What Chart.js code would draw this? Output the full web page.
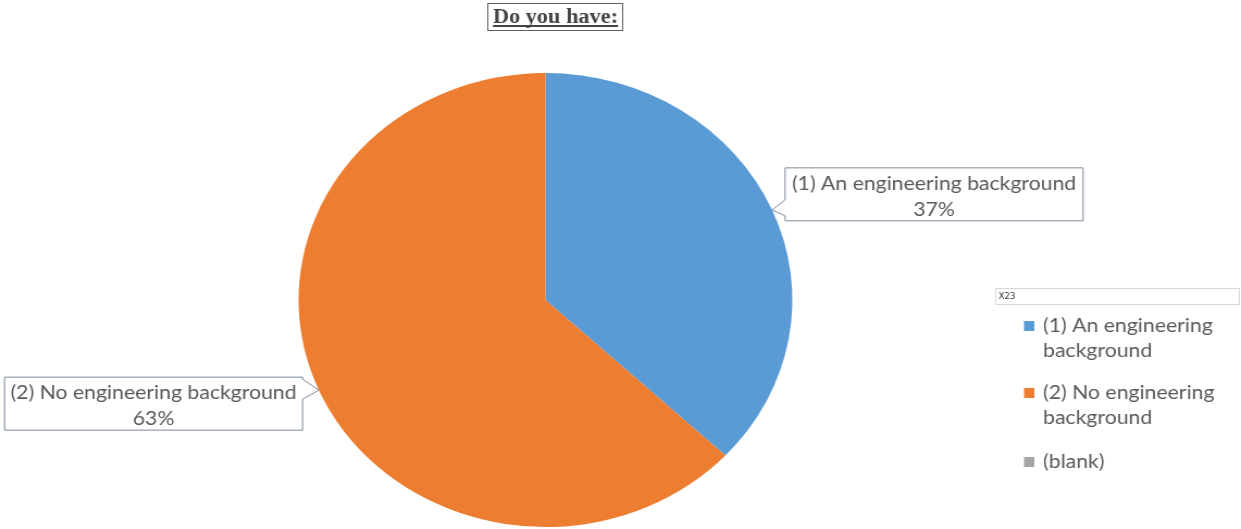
<!DOCTYPE html>
<html>
<head>
<meta charset="utf-8">
<title>Do you have:</title>
<script src="https://cdn.jsdelivr.net/npm/chart.js@4.4.1/dist/chart.umd.min.js"></script>
<style>
  html, body { margin: 0; padding: 0; background: #fff; }
  #wrap { position: relative; width: 1241px; height: 529px; overflow: hidden; }
  #chart { display: block; }
</style>
</head>
<body>
<div id="wrap">
  <!-- drawing buffer is narrower than the box, so the pie comes out slightly wide -->
  <canvas id="chart" width="1141" height="529" style="width:1241px;height:529px"></canvas>
</div>
<script>
const TITLE = 'Do you have:';
const FIELD_NAME = 'x23';
const categories = ['(1) An engineering background', '(2) No engineering background', '(blank)'];
const legendLines = [['(1) An engineering', 'background'], ['(2) No engineering', 'background'], ['(blank)']];
const shares = [37, 63, 0];
const sliceColors = ['#5B9BD5', '#ED7D31', '#A5A5A5'];

const TEXT_COLOR = '#595959';
const LABEL_FONT = '19.5px Lato, "Open Sans", sans-serif';

// callout box placement relative to the tip on the slice edge (buffer px)
const CALLOUT = {
  w: 274, h: 53,
  right: { dx: 12, dy: -42, notchTop: -10, notchBottom: 6 },
  left: { dx: -15, dy: -13, notchTop: -11, notchBottom: 9 },
};

const titlePlugin = {
  id: 'boxedTitle',
  afterDraw(chart) {
    const ctx = chart.ctx;
    const cx = 510.7;
    ctx.save();
    ctx.strokeStyle = '#5f5f5f';
    ctx.lineWidth = 1;
    ctx.strokeRect(448.5, 3.5, 124, 27);
    ctx.font = 'bold 20.5px "Liberation Serif", "DejaVu Serif", serif';
    ctx.fillStyle = '#444';
    ctx.textAlign = 'center';
    ctx.textBaseline = 'alphabetic';
    ctx.fillText(TITLE, cx, 23);
    const w = ctx.measureText(TITLE).width;
    ctx.fillRect(cx - w / 2, 25, w, 2);
    ctx.restore();
  },
};

const calloutPlugin = {
  id: 'callouts',
  afterDatasetsDraw(chart) {
    const ctx = chart.ctx;
    const meta = chart.getDatasetMeta(0);
    meta.data.forEach((arc, i) => {
      if (!shares[i]) return;
      const p = arc.getProps(['x', 'y', 'startAngle', 'endAngle', 'outerRadius'], true);
      const mid = (p.startAngle + p.endAngle) / 2;
      const tipX = p.x + Math.cos(mid) * p.outerRadius;
      const tipY = p.y + Math.sin(mid) * p.outerRadius;
      const onRight = Math.cos(mid) >= 0;
      const cfg = onRight ? CALLOUT.right : CALLOUT.left;
      const left = onRight ? tipX + cfg.dx : tipX + cfg.dx - CALLOUT.w;
      const top = tipY + cfg.dy;
      const right = left + CALLOUT.w;
      const bottom = top + CALLOUT.h;
      const side = onRight ? left : right;

      ctx.save();
      ctx.beginPath();
      if (onRight) {
        ctx.moveTo(left, top);
        ctx.lineTo(right, top);
        ctx.lineTo(right, bottom);
        ctx.lineTo(left, bottom);
        ctx.lineTo(side, tipY + cfg.notchBottom);
        ctx.lineTo(tipX, tipY);
        ctx.lineTo(side, tipY + cfg.notchTop);
      } else {
        ctx.moveTo(left, top);
        ctx.lineTo(right, top);
        ctx.lineTo(side, tipY + cfg.notchTop);
        ctx.lineTo(tipX, tipY);
        ctx.lineTo(side, tipY + cfg.notchBottom);
        ctx.lineTo(right, bottom);
        ctx.lineTo(left, bottom);
      }
      ctx.closePath();
      ctx.fillStyle = '#fff';
      ctx.fill();
      ctx.strokeStyle = '#7d8a9c';
      ctx.lineWidth = 1;
      ctx.stroke();

      ctx.fillStyle = TEXT_COLOR;
      ctx.font = LABEL_FONT;
      ctx.textAlign = 'center';
      ctx.textBaseline = 'middle';
      const cx = (left + right) / 2;
      ctx.fillText(categories[i], cx, top + 16);
      ctx.fillText(shares[i] + '%', cx, top + 42);
      ctx.restore();
    });
  },
};

const legendPlugin = {
  id: 'sideLegend',
  afterDraw(chart) {
    const ctx = chart.ctx;
    const ds = chart.data.datasets[0];
    ctx.save();
    // field button above the legend
    ctx.strokeStyle = '#d9d9d9';
    ctx.lineWidth = 1;
    ctx.strokeRect(915.5, 288.5, 224, 16);
    ctx.fillStyle = '#333';
    ctx.font = '8px "DejaVu Sans", sans-serif';
    ctx.textBaseline = 'middle';
    ctx.fillText(FIELD_NAME.toUpperCase(), 918, 297);

    const itemTops = [326, 393, 462];
    ctx.font = LABEL_FONT;
    chart.data.labels.forEach((_, i) => {
      const y0 = itemTops[i];
      ctx.fillStyle = ds.backgroundColor[i];
      ctx.fillRect(941.5, y0 - 5, 9.5, 10);
      ctx.fillStyle = TEXT_COLOR;
      legendLines[i].forEach((line, k) => ctx.fillText(line, 959, y0 + k * 25));
    });
    ctx.restore();
  },
};

new Chart(document.getElementById('chart'), {
  type: 'pie',
  data: {
    labels: categories,
    datasets: [{
      data: shares,
      backgroundColor: sliceColors,
      borderWidth: 0,
    }],
  },
  options: {
    responsive: false,
    devicePixelRatio: 1,
    animation: false,
    layout: { padding: { left: 274.5, right: 412.5, top: 73, bottom: 2 } },
    plugins: {
      legend: { display: false },
      title: { display: false },
      tooltip: { enabled: false },
    },
  },
  plugins: [titlePlugin, calloutPlugin, legendPlugin],
});
</script>
</body>
</html>
